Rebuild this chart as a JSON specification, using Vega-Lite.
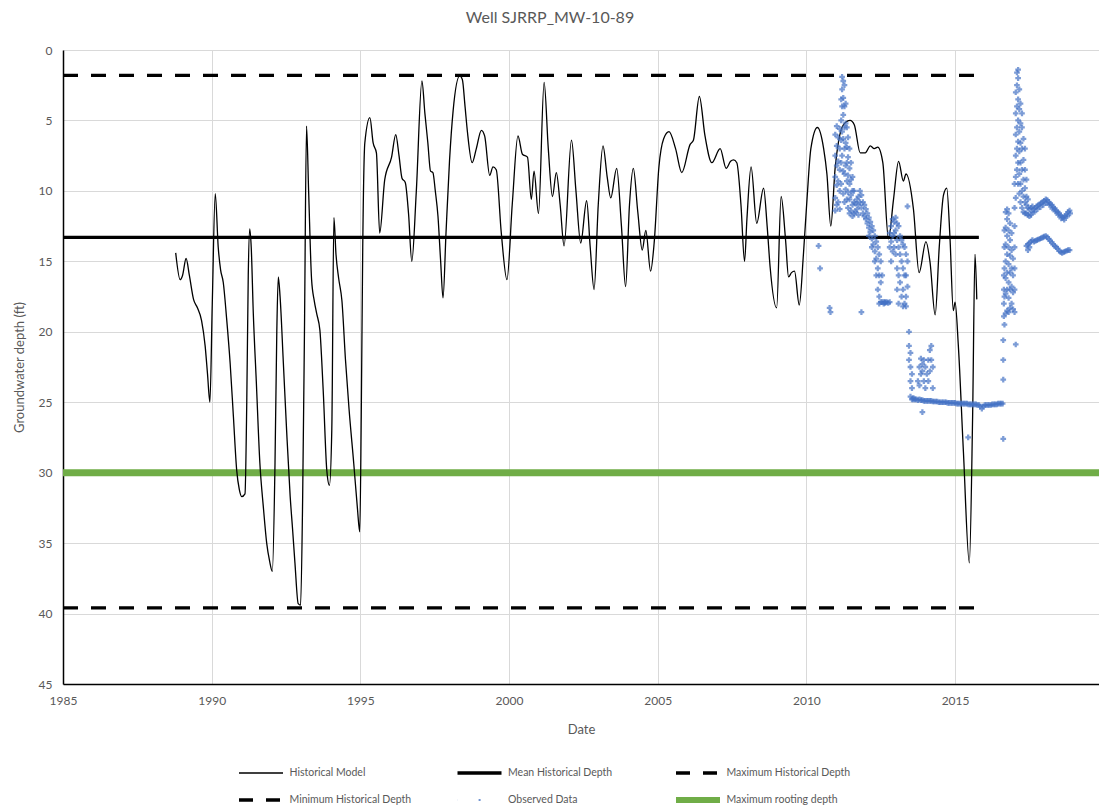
{
  "$schema": "https://vega.github.io/schema/vega-lite/v6.json",
  "autosize": {"type": "none"},
  "padding": {"left": 63, "top": 50, "right": 0, "bottom": 128},
  "width": 1036,
  "height": 634,
  "background": "white",
  "title": {"text": "Well SJRRP_MW-10-89", "font": "Lato", "fontSize": 16, "fontWeight": "normal", "color": "#595959", "dx": -31, "offset": 18, "anchor": "middle"},
  "config": {
    "view": {"stroke": null},
    "axis": {"labelFont": "Lato", "labelFontSize": 12, "labelColor": "#595959", "titleFont": "Lato", "titleFontSize": 13, "titleFontWeight": "normal", "titleColor": "#595959", "gridColor": "#d9d9d9", "gridWidth": 1, "domainColor": "#000000", "domainWidth": 1.5, "ticks": false}
  },
  "datasets": {
    "model": [
      {"t":1988.79,"d":14.4},{"t":1988.94,"d":16.3},{"t":1989.02,"d":16.0},{"t":1989.14,"d":14.8},{"t":1989.25,"d":16.0},{"t":1989.39,"d":17.7},{"t":1989.52,"d":18.3},{"t":1989.66,"d":19.2},{"t":1989.78,"d":21.0},{"t":1989.86,"d":23.0},{"t":1989.94,"d":25.0},{"t":1990.02,"d":18.0},{"t":1990.12,"d":10.2},{"t":1990.22,"d":14.0},{"t":1990.30,"d":15.6},{"t":1990.39,"d":16.5},{"t":1990.50,"d":19.0},{"t":1990.62,"d":22.2},{"t":1990.73,"d":26.0},{"t":1990.84,"d":29.8},{"t":1990.93,"d":31.2},{"t":1991.01,"d":31.7},{"t":1991.12,"d":31.5},{"t":1991.18,"d":25.0},{"t":1991.23,"d":16.0},{"t":1991.28,"d":12.7},{"t":1991.33,"d":14.0},{"t":1991.40,"d":18.7},{"t":1991.50,"d":23.5},{"t":1991.62,"d":29.3},{"t":1991.74,"d":32.5},{"t":1991.85,"d":35.0},{"t":1991.95,"d":36.3},{"t":1992.04,"d":37.0},{"t":1992.13,"d":29.3},{"t":1992.19,"d":20.0},{"t":1992.24,"d":16.1},{"t":1992.30,"d":17.5},{"t":1992.41,"d":22.2},{"t":1992.52,"d":27.0},{"t":1992.64,"d":31.7},{"t":1992.72,"d":34.0},{"t":1992.80,"d":36.4},{"t":1992.91,"d":39.3},{"t":1992.99,"d":39.4},{"t":1993.06,"d":31.7},{"t":1993.12,"d":20.0},{"t":1993.19,"d":5.4},{"t":1993.26,"d":10.0},{"t":1993.36,"d":16.3},{"t":1993.45,"d":17.8},{"t":1993.53,"d":18.7},{"t":1993.64,"d":19.9},{"t":1993.70,"d":22.0},{"t":1993.76,"d":24.6},{"t":1993.87,"d":29.8},{"t":1993.96,"d":30.9},{"t":1994.04,"d":26.9},{"t":1994.11,"d":11.9},{"t":1994.18,"d":14.5},{"t":1994.27,"d":16.2},{"t":1994.38,"d":17.8},{"t":1994.50,"d":22.0},{"t":1994.62,"d":25.5},{"t":1994.78,"d":29.4},{"t":1994.90,"d":32.5},{"t":1994.98,"d":34.2},{"t":1995.03,"d":26.0},{"t":1995.08,"d":14.0},{"t":1995.15,"d":6.6},{"t":1995.32,"d":4.8},{"t":1995.43,"d":6.6},{"t":1995.54,"d":7.3},{"t":1995.65,"d":13.0},{"t":1995.82,"d":9.2},{"t":1996.05,"d":7.6},{"t":1996.19,"d":6.0},{"t":1996.30,"d":7.5},{"t":1996.40,"d":9.1},{"t":1996.51,"d":9.4},{"t":1996.62,"d":11.6},{"t":1996.73,"d":15.0},{"t":1996.88,"d":10.1},{"t":1997.07,"d":2.2},{"t":1997.17,"d":4.5},{"t":1997.27,"d":6.6},{"t":1997.36,"d":8.6},{"t":1997.44,"d":8.7},{"t":1997.52,"d":10.0},{"t":1997.61,"d":11.8},{"t":1997.70,"d":15.0},{"t":1997.78,"d":17.6},{"t":1997.88,"d":13.0},{"t":1998.00,"d":7.8},{"t":1998.12,"d":4.3},{"t":1998.34,"d":1.84},{"t":1998.43,"d":2.1},{"t":1998.52,"d":4.0},{"t":1998.60,"d":5.8},{"t":1998.76,"d":8.0},{"t":1998.90,"d":7.0},{"t":1999.07,"d":5.7},{"t":1999.18,"d":6.1},{"t":1999.35,"d":8.9},{"t":1999.46,"d":8.3},{"t":1999.57,"d":8.5},{"t":1999.74,"d":13.0},{"t":1999.93,"d":16.3},{"t":2000.11,"d":10.9},{"t":2000.30,"d":6.1},{"t":2000.45,"d":7.4},{"t":2000.62,"d":7.6},{"t":2000.75,"d":10.6},{"t":2000.84,"d":8.6},{"t":2000.99,"d":11.6},{"t":2001.18,"d":2.3},{"t":2001.32,"d":7.0},{"t":2001.46,"d":10.4},{"t":2001.59,"d":8.7},{"t":2001.72,"d":11.0},{"t":2001.85,"d":13.9},{"t":2002.10,"d":6.4},{"t":2002.25,"d":10.0},{"t":2002.41,"d":13.7},{"t":2002.61,"d":10.7},{"t":2002.73,"d":14.0},{"t":2002.86,"d":17.0},{"t":2003.00,"d":11.0},{"t":2003.16,"d":6.8},{"t":2003.30,"d":9.0},{"t":2003.42,"d":10.5},{"t":2003.62,"d":8.4},{"t":2003.78,"d":12.5},{"t":2003.92,"d":16.8},{"t":2004.05,"d":11.0},{"t":2004.18,"d":8.4},{"t":2004.33,"d":11.5},{"t":2004.48,"d":14.2},{"t":2004.60,"d":12.8},{"t":2004.76,"d":15.7},{"t":2004.88,"d":13.7},{"t":2005.04,"d":8.3},{"t":2005.20,"d":6.3},{"t":2005.38,"d":5.8},{"t":2005.60,"d":7.0},{"t":2005.81,"d":8.7},{"t":2006.09,"d":6.7},{"t":2006.20,"d":6.4},{"t":2006.40,"d":3.3},{"t":2006.59,"d":6.1},{"t":2006.82,"d":8.0},{"t":2007.10,"d":7.0},{"t":2007.30,"d":8.4},{"t":2007.45,"d":7.9},{"t":2007.55,"d":7.8},{"t":2007.66,"d":8.0},{"t":2007.80,"d":11.0},{"t":2007.92,"d":15.0},{"t":2008.00,"d":12.0},{"t":2008.14,"d":8.3},{"t":2008.33,"d":12.3},{"t":2008.56,"d":9.8},{"t":2008.68,"d":12.5},{"t":2008.78,"d":15.4},{"t":2009.00,"d":18.3},{"t":2009.15,"d":10.4},{"t":2009.30,"d":13.5},{"t":2009.40,"d":16.1},{"t":2009.50,"d":15.8},{"t":2009.60,"d":15.7},{"t":2009.76,"d":18.1},{"t":2009.90,"d":14.5},{"t":2010.02,"d":10.6},{"t":2010.15,"d":7.0},{"t":2010.37,"d":5.5},{"t":2010.58,"d":7.0},{"t":2010.69,"d":8.8},{"t":2010.82,"d":12.5},{"t":2010.97,"d":8.3},{"t":2011.08,"d":6.5},{"t":2011.25,"d":5.3},{"t":2011.47,"d":5.0},{"t":2011.61,"d":5.3},{"t":2011.81,"d":7.3},{"t":2011.98,"d":7.3},{"t":2012.15,"d":6.8},{"t":2012.28,"d":7.0},{"t":2012.40,"d":6.9},{"t":2012.57,"d":8.0},{"t":2012.76,"d":13.4},{"t":2012.93,"d":10.6},{"t":2013.10,"d":7.9},{"t":2013.26,"d":9.3},{"t":2013.35,"d":8.8},{"t":2013.60,"d":11.3},{"t":2013.79,"d":15.8},{"t":2014.02,"d":13.6},{"t":2014.16,"d":15.1},{"t":2014.33,"d":18.8},{"t":2014.47,"d":13.9},{"t":2014.61,"d":10.3},{"t":2014.72,"d":9.8},{"t":2014.83,"d":13.4},{"t":2014.94,"d":18.5},{"t":2015.00,"d":17.9},{"t":2015.11,"d":21.0},{"t":2015.28,"d":28.5},{"t":2015.48,"d":36.4},{"t":2015.59,"d":26.0},{"t":2015.67,"d":14.5},{"t":2015.73,"d":17.7}
    ],
    "obs": [
      {"t":2010.41,"d":13.9},{"t":2010.46,"d":15.5},{"t":2010.78,"d":18.3},{"t":2010.81,"d":18.6},{"t":2011.85,"d":18.6},
      {"t":2010.97,"d":6.0},{"t":2010.97,"d":7.5},{"t":2010.97,"d":9.0},{"t":2010.97,"d":10.5},{"t":2010.97,"d":11.4},
      {"t":2011.02,"d":5.4},{"t":2011.02,"d":6.8},{"t":2011.02,"d":8.2},{"t":2011.02,"d":9.6},{"t":2011.02,"d":11.0},
      {"t":2011.07,"d":6.2},{"t":2011.07,"d":7.9},{"t":2011.07,"d":9.3},{"t":2011.07,"d":10.8},
      {"t":2011.12,"d":5.6},{"t":2011.12,"d":7.0},{"t":2011.12,"d":8.5},{"t":2011.12,"d":10.0},{"t":2011.12,"d":11.3},
      {"t":2011.17,"d":3.5},{"t":2011.17,"d":5.0},{"t":2011.17,"d":6.4},{"t":2011.17,"d":8.0},{"t":2011.17,"d":9.5},
      {"t":2011.20,"d":1.9},{"t":2011.20,"d":2.8},{"t":2011.20,"d":4.0},{"t":2011.20,"d":5.8},{"t":2011.20,"d":7.5},
      {"t":2011.24,"d":2.2},{"t":2011.24,"d":3.4},{"t":2011.24,"d":4.6},{"t":2011.24,"d":6.3},{"t":2011.24,"d":8.6},{"t":2011.24,"d":10.2},
      {"t":2011.28,"d":2.5},{"t":2011.28,"d":4.0},{"t":2011.28,"d":5.5},{"t":2011.28,"d":7.0},{"t":2011.28,"d":8.8},{"t":2011.28,"d":10.8},
      {"t":2011.32,"d":3.8},{"t":2011.32,"d":5.2},{"t":2011.32,"d":6.6},{"t":2011.32,"d":8.2},{"t":2011.32,"d":9.9},
      {"t":2011.36,"d":5.5},{"t":2011.36,"d":6.9},{"t":2011.36,"d":8.0},{"t":2011.36,"d":9.3},{"t":2011.36,"d":10.6},
      {"t":2011.40,"d":6.2},{"t":2011.40,"d":7.6},{"t":2011.40,"d":8.9},{"t":2011.40,"d":10.1},{"t":2011.40,"d":11.2},
      {"t":2011.45,"d":7.0},{"t":2011.45,"d":8.4},{"t":2011.45,"d":9.5},{"t":2011.45,"d":10.6},{"t":2011.45,"d":11.6},
      {"t":2011.50,"d":8.0},{"t":2011.50,"d":9.2},{"t":2011.50,"d":10.3},{"t":2011.50,"d":11.4},
      {"t":2011.55,"d":9.0},{"t":2011.55,"d":10.0},{"t":2011.55,"d":11.0},{"t":2011.55,"d":11.8},
      {"t":2011.60,"d":10.0},{"t":2011.60,"d":10.8},{"t":2011.60,"d":11.6},
      {"t":2011.65,"d":10.9},{"t":2011.65,"d":11.5},{"t":2011.70,"d":10.6},{"t":2011.70,"d":11.3},{"t":2011.75,"d":10.4},{"t":2011.75,"d":11.0},{"t":2011.75,"d":11.7},
      {"t":2011.80,"d":10.0},{"t":2011.80,"d":10.8},{"t":2011.85,"d":10.3},{"t":2011.85,"d":11.2},{"t":2011.90,"d":10.8},{"t":2011.90,"d":11.6},
      {"t":2011.95,"d":11.0},{"t":2011.95,"d":11.8},{"t":2012.00,"d":11.3},{"t":2012.00,"d":12.0},{"t":2012.05,"d":11.6},{"t":2012.05,"d":12.3},
      {"t":2012.10,"d":11.9},{"t":2012.10,"d":12.6},{"t":2012.10,"d":13.2},{"t":2012.15,"d":12.2},{"t":2012.15,"d":12.9},
      {"t":2012.20,"d":12.5},{"t":2012.20,"d":13.4},{"t":2012.20,"d":14.0},{"t":2012.25,"d":12.8},{"t":2012.25,"d":13.8},
      {"t":2012.30,"d":13.2},{"t":2012.30,"d":14.3},{"t":2012.30,"d":15.0},{"t":2012.35,"d":13.6},{"t":2012.35,"d":14.8},{"t":2012.35,"d":16.0},
      {"t":2012.40,"d":14.0},{"t":2012.40,"d":15.5},{"t":2012.40,"d":17.0},{"t":2012.45,"d":14.5},{"t":2012.45,"d":16.0},{"t":2012.45,"d":17.5},{"t":2012.45,"d":18.0},
      {"t":2012.50,"d":15.0},{"t":2012.50,"d":16.5},{"t":2012.50,"d":17.9},{"t":2012.55,"d":16.0},{"t":2012.55,"d":17.9},
      {"t":2012.60,"d":17.9},{"t":2012.60,"d":18.0},{"t":2012.65,"d":17.9},{"t":2012.65,"d":17.95},{"t":2012.70,"d":17.9},{"t":2012.75,"d":17.95},
      {"t":2012.80,"d":17.9},{"t":2012.80,"d":13.0},{"t":2012.80,"d":14.0},
      {"t":2012.85,"d":12.5},{"t":2012.85,"d":13.6},{"t":2012.85,"d":15.0},{"t":2012.90,"d":12.0},{"t":2012.90,"d":13.2},{"t":2012.90,"d":14.3},
      {"t":2012.95,"d":12.2},{"t":2012.95,"d":13.0},{"t":2012.95,"d":14.0},{"t":2013.00,"d":11.9},{"t":2013.00,"d":12.8},{"t":2013.00,"d":14.5},
      {"t":2013.05,"d":12.3},{"t":2013.05,"d":13.5},{"t":2013.05,"d":15.5},{"t":2013.05,"d":17.0},
      {"t":2013.10,"d":12.5},{"t":2013.10,"d":14.0},{"t":2013.10,"d":16.0},{"t":2013.10,"d":18.0},
      {"t":2013.15,"d":13.2},{"t":2013.15,"d":14.5},{"t":2013.15,"d":16.5},{"t":2013.20,"d":13.5},{"t":2013.20,"d":15.0},{"t":2013.20,"d":17.5},
      {"t":2013.25,"d":13.8},{"t":2013.25,"d":15.5},{"t":2013.25,"d":17.0},{"t":2013.25,"d":18.2},
      {"t":2013.30,"d":14.0},{"t":2013.30,"d":16.0},{"t":2013.30,"d":18.0},
      {"t":2013.35,"d":14.5},{"t":2013.35,"d":16.0},{"t":2013.35,"d":17.5},{"t":2013.35,"d":18.2},
      {"t":2013.40,"d":11.1},{"t":2013.40,"d":15.0},{"t":2013.40,"d":16.8},
      {"t":2013.45,"d":20.0},{"t":2013.45,"d":21.0},{"t":2013.45,"d":22.0},
      {"t":2013.50,"d":21.5},{"t":2013.50,"d":22.5},{"t":2013.50,"d":23.5},{"t":2013.50,"d":24.6},
      {"t":2013.55,"d":23.0},{"t":2013.55,"d":24.0},{"t":2013.55,"d":24.8},
      {"t":2013.60,"d":24.7},{"t":2013.60,"d":24.8},{"t":2013.65,"d":24.8},{"t":2013.70,"d":24.8},
      {"t":2013.75,"d":24.85},{"t":2013.75,"d":23.5},{"t":2013.80,"d":22.5},{"t":2013.80,"d":23.8},{"t":2013.80,"d":24.8},
      {"t":2013.85,"d":21.9},{"t":2013.85,"d":23.0},{"t":2013.85,"d":24.85},
      {"t":2013.90,"d":22.3},{"t":2013.90,"d":22.8},{"t":2013.90,"d":24.85},{"t":2013.90,"d":25.7},
      {"t":2013.95,"d":22.0},{"t":2013.95,"d":23.5},{"t":2013.95,"d":24.9},
      {"t":2014.00,"d":22.5},{"t":2014.00,"d":24.0},{"t":2014.00,"d":24.9},
      {"t":2014.05,"d":23.0},{"t":2014.05,"d":24.9},{"t":2014.10,"d":22.0},{"t":2014.10,"d":23.5},{"t":2014.10,"d":24.9},
      {"t":2014.15,"d":21.3},{"t":2014.15,"d":22.8},{"t":2014.15,"d":24.9},{"t":2014.20,"d":21.0},{"t":2014.20,"d":22.0},{"t":2014.20,"d":24.9},
      {"t":2014.25,"d":22.5},{"t":2014.25,"d":24.0},{"t":2014.25,"d":24.95},
      {"t":2014.30,"d":24.95},{"t":2014.35,"d":24.95},{"t":2014.40,"d":24.95},{"t":2014.45,"d":25.0},{"t":2014.50,"d":25.0},{"t":2014.55,"d":25.0},{"t":2014.60,"d":25.0},{"t":2014.65,"d":25.0},{"t":2014.70,"d":25.0},{"t":2014.75,"d":25.05},{"t":2014.80,"d":25.05},{"t":2014.85,"d":25.05},{"t":2014.90,"d":25.05},{"t":2014.95,"d":25.05},{"t":2015.00,"d":25.05},{"t":2015.05,"d":25.1},{"t":2015.10,"d":25.1},{"t":2015.15,"d":25.1},{"t":2015.20,"d":25.1},{"t":2015.25,"d":25.1},{"t":2015.30,"d":25.1},{"t":2015.35,"d":25.1},{"t":2015.40,"d":25.1},{"t":2015.44,"d":27.5},{"t":2015.45,"d":25.15},{"t":2015.50,"d":25.15},{"t":2015.55,"d":25.15},{"t":2015.60,"d":25.15},{"t":2015.65,"d":25.15},{"t":2015.70,"d":25.15},{"t":2015.75,"d":25.2},{"t":2015.80,"d":25.2},{"t":2015.85,"d":25.3},{"t":2015.90,"d":25.45},{"t":2015.95,"d":25.3},{"t":2016.00,"d":25.2},{"t":2016.05,"d":25.2},{"t":2016.10,"d":25.2},{"t":2016.15,"d":25.2},{"t":2016.20,"d":25.2},{"t":2016.25,"d":25.15},{"t":2016.30,"d":25.15},{"t":2016.35,"d":25.15},{"t":2016.40,"d":25.15},{"t":2016.45,"d":25.1},{"t":2016.50,"d":25.1},{"t":2016.55,"d":25.1},{"t":2016.60,"d":25.1},
      {"t":2016.62,"d":27.6},{"t":2016.62,"d":23.4},{"t":2016.62,"d":22.0},{"t":2016.62,"d":20.6},
      {"t":2016.64,"d":18.9},{"t":2016.64,"d":18.0},{"t":2016.64,"d":17.0},{"t":2016.64,"d":16.0},
      {"t":2016.66,"d":19.5},{"t":2016.66,"d":17.5},{"t":2016.66,"d":15.5},{"t":2016.66,"d":14.0},{"t":2016.66,"d":12.8},
      {"t":2016.70,"d":18.7},{"t":2016.70,"d":17.3},{"t":2016.70,"d":16.2},{"t":2016.70,"d":15.0},{"t":2016.70,"d":13.8},{"t":2016.70,"d":12.6},{"t":2016.70,"d":11.5},
      {"t":2016.75,"d":18.5},{"t":2016.75,"d":17.0},{"t":2016.75,"d":15.8},{"t":2016.75,"d":14.5},{"t":2016.75,"d":13.2},{"t":2016.75,"d":12.0},{"t":2016.75,"d":11.3},
      {"t":2016.80,"d":18.6},{"t":2016.80,"d":17.6},{"t":2016.80,"d":16.5},{"t":2016.80,"d":15.2},{"t":2016.80,"d":14.0},{"t":2016.80,"d":12.8},{"t":2016.80,"d":11.6},
      {"t":2016.85,"d":18.3},{"t":2016.85,"d":17.0},{"t":2016.85,"d":15.8},{"t":2016.85,"d":14.6},{"t":2016.85,"d":13.5},{"t":2016.85,"d":12.3},
      {"t":2016.90,"d":18.0},{"t":2016.90,"d":16.8},{"t":2016.90,"d":15.5},{"t":2016.90,"d":14.2},{"t":2016.90,"d":13.0},
      {"t":2016.95,"d":18.4},{"t":2016.95,"d":17.2},{"t":2016.95,"d":16.0},{"t":2016.95,"d":14.8},
      {"t":2017.00,"d":18.6},{"t":2017.00,"d":17.0},{"t":2017.00,"d":15.5},{"t":2017.00,"d":14.0},{"t":2017.00,"d":12.5},{"t":2017.00,"d":11.2},{"t":2017.00,"d":9.5},
      {"t":2017.04,"d":20.9},{"t":2017.04,"d":10.5},{"t":2017.04,"d":9.0},{"t":2017.04,"d":7.5},{"t":2017.04,"d":6.0},{"t":2017.04,"d":4.5},{"t":2017.04,"d":3.0},
      {"t":2017.08,"d":8.5},{"t":2017.08,"d":7.0},{"t":2017.08,"d":5.5},{"t":2017.08,"d":4.0},{"t":2017.08,"d":2.5},{"t":2017.08,"d":1.6},
      {"t":2017.12,"d":9.5},{"t":2017.12,"d":8.0},{"t":2017.12,"d":6.5},{"t":2017.12,"d":5.0},{"t":2017.12,"d":3.5},{"t":2017.12,"d":2.0},{"t":2017.12,"d":1.4},
      {"t":2017.16,"d":10.2},{"t":2017.16,"d":8.8},{"t":2017.16,"d":7.2},{"t":2017.16,"d":5.8},{"t":2017.16,"d":4.2},{"t":2017.16,"d":2.8},
      {"t":2017.20,"d":10.8},{"t":2017.20,"d":9.5},{"t":2017.20,"d":8.0},{"t":2017.20,"d":6.6},{"t":2017.20,"d":5.2},{"t":2017.20,"d":3.8},
      {"t":2017.25,"d":11.2},{"t":2017.25,"d":10.0},{"t":2017.25,"d":8.5},{"t":2017.25,"d":7.0},{"t":2017.25,"d":5.5},{"t":2017.25,"d":4.5},
      {"t":2017.30,"d":11.5},{"t":2017.30,"d":10.4},{"t":2017.30,"d":9.2},{"t":2017.30,"d":7.8},{"t":2017.30,"d":6.3},
      {"t":2017.35,"d":11.6},{"t":2017.35,"d":10.8},{"t":2017.35,"d":9.8},{"t":2017.35,"d":8.5},{"t":2017.35,"d":7.0},
      {"t":2017.40,"d":11.6},{"t":2017.40,"d":11.0},{"t":2017.40,"d":10.4},{"t":2017.40,"d":9.2},{"t":2017.40,"d":13.9},
      {"t":2017.45,"d":11.7},{"t":2017.45,"d":11.2},{"t":2017.45,"d":10.6},{"t":2017.45,"d":13.8},{"t":2017.45,"d":14.2},
      {"t":2017.50,"d":11.8},{"t":2017.50,"d":11.3},{"t":2017.50,"d":13.7},{"t":2017.50,"d":14.0},
      {"t":2017.55,"d":11.7},{"t":2017.55,"d":11.2},{"t":2017.55,"d":13.6},{"t":2017.60,"d":11.5},{"t":2017.60,"d":11.1},{"t":2017.60,"d":13.5},
      {"t":2017.65,"d":11.3},{"t":2017.70,"d":11.2},{"t":2017.75,"d":11.1},{"t":2017.80,"d":11.0},{"t":2017.85,"d":10.95},{"t":2017.90,"d":10.85},{"t":2017.95,"d":10.8},{"t":2018.00,"d":10.7},{"t":2018.05,"d":10.6},{"t":2018.10,"d":10.65},{"t":2018.15,"d":10.8},{"t":2018.20,"d":10.9},{"t":2018.25,"d":11.0},{"t":2018.30,"d":11.15},{"t":2018.35,"d":11.25},{"t":2018.40,"d":11.4},{"t":2018.45,"d":11.5},{"t":2018.50,"d":11.6},{"t":2018.55,"d":11.75},{"t":2018.60,"d":11.85},{"t":2018.65,"d":11.9},{"t":2018.70,"d":11.8},{"t":2018.75,"d":11.65},{"t":2018.80,"d":11.5},{"t":2018.85,"d":11.4},
      {"t":2017.67,"d":11.5},{"t":2017.77,"d":11.3},{"t":2017.87,"d":11.15},{"t":2017.97,"d":11.0},{"t":2018.07,"d":10.85},{"t":2018.17,"d":11.0},{"t":2018.27,"d":11.25},{"t":2018.37,"d":11.45},{"t":2018.47,"d":11.7},{"t":2018.57,"d":11.95},{"t":2018.67,"d":12.05},{"t":2018.77,"d":11.8},{"t":2018.87,"d":11.6},
      {"t":2017.65,"d":13.6},{"t":2017.70,"d":13.55},{"t":2017.75,"d":13.5},{"t":2017.80,"d":13.45},{"t":2017.85,"d":13.4},{"t":2017.90,"d":13.35},{"t":2017.95,"d":13.3},{"t":2018.00,"d":13.25},{"t":2018.05,"d":13.2},{"t":2018.10,"d":13.3},{"t":2018.15,"d":13.4},{"t":2018.20,"d":13.55},{"t":2018.25,"d":13.65},{"t":2018.30,"d":13.8},{"t":2018.35,"d":13.9},{"t":2018.40,"d":14.0},{"t":2018.45,"d":14.1},{"t":2018.50,"d":14.25},{"t":2018.55,"d":14.35},{"t":2018.60,"d":14.4},{"t":2018.65,"d":14.35},{"t":2018.70,"d":14.3},{"t":2018.75,"d":14.25},{"t":2018.80,"d":14.2},{"t":2018.85,"d":14.2}
    ],
    "refs": [
      {"series":"Mean Historical Depth","t":1985,"d":13.3},{"series":"Mean Historical Depth","t":2015.8,"d":13.3},
      {"series":"Maximum Historical Depth","t":1985,"d":1.8},{"series":"Maximum Historical Depth","t":2015.8,"d":1.8},
      {"series":"Minimum Historical Depth","t":1985,"d":39.6},{"series":"Minimum Historical Depth","t":2015.8,"d":39.6},
      {"series":"Maximum rooting depth","t":1985,"d":30},{"series":"Maximum rooting depth","t":2019.84,"d":30}
    ]
  },
  "layer": [
    {
      "data": {"name": "refs"},
      "mark": {"type": "line", "clip": true},
      "encoding": {
        "x": {"field": "t", "type": "quantitative", "title": "Date",
              "scale": {"domain": [1985, 2019.84], "nice": false, "zero": false},
              "axis": {"values": [1985, 1990, 1995, 2000, 2005, 2010, 2015], "format": "d", "labelPadding": 11, "titlePadding": 17, "labelFlush": false}},
        "y": {"field": "d", "type": "quantitative", "title": "Groundwater depth (ft)",
              "scale": {"domain": [0, 45], "reverse": true, "nice": false},
              "axis": {"values": [0, 5, 10, 15, 20, 25, 30, 35, 40, 45], "labelPadding": 11, "titlePadding": 12}},
        "color": {"field": "series", "type": "nominal",
                  "scale": {"domain": ["Historical Model", "Mean Historical Depth", "Maximum Historical Depth", "Minimum Historical Depth", "Observed Data", "Maximum rooting depth"],
                            "range": ["#000000", "#000000", "#000000", "#000000", "#4472C4", "#70AD47"]},
                  "legend": {"title": null, "orient": "none", "legendX": 174, "legendY": 715, "columns": 3, "direction": "horizontal", "gridAlign": "all", "columnPadding": 41.5, "rowPadding": 11, "clipHeight": 16, "symbolType": "M-4,0H4", "symbolSize": 121, "symbolOffset": 16.5, "labelFont": "Lato", "labelFontSize": 10.5, "labelColor": "#595959", "labelOffset": 21, "symbolOpacity": 1,
                             "encode": {"symbols": {"update": {
                               "strokeWidth": {"signal": "(datum.value === 'Maximum rooting depth' ? 6 : (datum.value === 'Historical Model' ? 1.3 : (datum.value === 'Observed Data' ? 1.5 : 3.5)))"},
                               "strokeDash": {"signal": "((datum.value === 'Maximum Historical Depth' || datum.value === 'Minimum Historical Depth') ? [14, 13] : (datum.value === 'Observed Data' ? [0.1, 21, 2, 60] : [1, 0]))"}
                             }}}}},
        "strokeDash": {"condition": {"test": "datum.series === 'Maximum Historical Depth' || datum.series === 'Minimum Historical Depth'", "value": [15, 13]}, "value": [1, 0]},
        "strokeWidth": {"condition": {"test": "datum.series === 'Maximum rooting depth'", "value": 7}, "value": 3.2}
      }
    },
    {
      "mark": {"type": "rule", "color": "#000000", "strokeWidth": 1.5},
      "encoding": {"y": {"datum": 0}}
    },
    {
      "data": {"name": "model"},
      "mark": {"type": "line", "color": "#000000", "strokeWidth": 1.3, "interpolate": "monotone"},
      "encoding": {
        "x": {"field": "t", "type": "quantitative"},
        "y": {"field": "d", "type": "quantitative"}
      }
    },
    {
      "data": {"name": "obs"},
      "mark": {"type": "point", "shape": "cross", "filled": true, "color": "#4472C4", "size": 32, "opacity": 0.7},
      "encoding": {
        "x": {"field": "t", "type": "quantitative"},
        "y": {"field": "d", "type": "quantitative"}
      }
    }
  ]
}
